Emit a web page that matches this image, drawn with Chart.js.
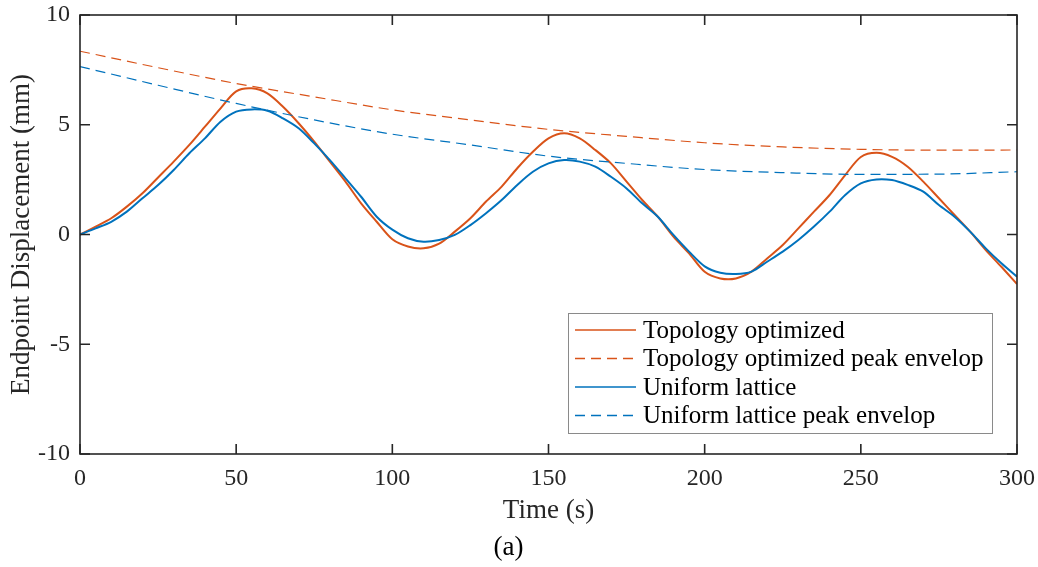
<!DOCTYPE html>
<html>
<head>
<meta charset="utf-8">
<script src="https://cdn.jsdelivr.net/npm/chart.js@4.4.1/dist/chart.umd.min.js"></script>
<style>
  html, body { margin: 0; padding: 0; background: #fff; }
  #wrap { width: 1038px; height: 567px; }
</style>
</head>
<body>
<div id="wrap"><canvas id="dispChart" width="1038" height="567"></canvas></div>
<script>
// sample times (s)
const times = [
  0, 5, 10, 15, 20, 25, 30, 35, 40, 45, 50, 55, 60, 65, 70, 75, 80, 85, 90, 95,
  100, 105, 110, 115, 120, 125, 130, 135, 140, 145, 150, 155, 160, 165, 170, 175, 180, 185, 190, 195,
  200, 205, 210, 215, 220, 225, 230, 235, 240, 245, 250, 255, 260, 265, 270, 275, 280, 285, 290, 295,
  300
];

// endpoint displacement (mm)
const topologyOptimized = [
  0.0, 0.36, 0.74, 1.27, 1.88, 2.6, 3.32, 4.08, 4.91, 5.75, 6.52, 6.66, 6.43, 5.82, 5.07, 4.23, 3.32, 2.41, 1.42, 0.58,
  -0.22, -0.55, -0.63, -0.42, 0.13, 0.74, 1.5, 2.18, 3.02, 3.77, 4.38, 4.61, 4.38, 3.85, 3.24, 2.41, 1.57, 0.81, -0.1, -0.86,
  -1.7, -2.0, -2.0, -1.69, -1.09, -0.48, 0.28, 1.04, 1.8, 2.71, 3.53, 3.72, 3.54, 3.09, 2.41, 1.65, 0.89, 0.13, -0.71, -1.47,
  -2.26
];
const uniformLattice = [
  0.0, 0.28, 0.58, 1.04, 1.65, 2.25, 2.94, 3.7, 4.38, 5.14, 5.6, 5.7, 5.64, 5.29, 4.84, 4.15, 3.39, 2.56, 1.72, 0.81,
  0.22, -0.17, -0.33, -0.25, -0.02, 0.43, 0.97, 1.57, 2.26, 2.86, 3.24, 3.39, 3.32, 3.09, 2.63, 2.1, 1.42, 0.81, -0.02, -0.78,
  -1.45, -1.74, -1.8, -1.69, -1.24, -0.78, -0.25, 0.36, 1.04, 1.8, 2.33, 2.51, 2.48, 2.26, 1.95, 1.34, 0.81, 0.13, -0.63, -1.31,
  -1.92
];

// peak envelopes
const envelopeTimes = [0, 25, 50, 75, 100, 125, 150, 175, 200, 225, 250, 275, 300];
const topologyEnvelope = [8.35, 7.6, 6.88, 6.27, 5.68, 5.22, 4.79, 4.47, 4.18, 3.99, 3.88, 3.84, 3.85];
const uniformEnvelope = [7.65, 6.8, 5.97, 5.22, 4.57, 4.08, 3.57, 3.24, 2.96, 2.82, 2.74, 2.75, 2.86];

const seriesLabels = [
  'Topology optimized',
  'Topology optimized peak envelop',
  'Uniform lattice',
  'Uniform lattice peak envelop'
];

const xTicks = [0, 50, 100, 150, 200, 250, 300];
const yTicks = [-10, -5, 0, 5, 10];

const FONT = "'Liberation Serif', 'Times New Roman', serif";
const INK = '#262626';
const ORANGE = '#D95319';
const BLUE = '#0072BD';

const toPoints = (xs, ys) => xs.map((t, i) => ({ x: t, y: ys[i] }));

// keep the plot box fixed: no extra room for overhanging tick labels
function noLabelPadding(scale) {
  scale.paddingTop = 0;
  scale.paddingBottom = 0;
  scale.paddingLeft = 0;
  scale.paddingRight = 0;
}

// box around the axes with inward tick marks on all four sides
const frameTicks = {
  id: 'frameTicks',
  afterDatasetsDraw(chart) {
    const { ctx, chartArea: a, scales: { x, y } } = chart;
    ctx.save();
    ctx.strokeStyle = INK;
    ctx.lineWidth = 1.6;
    ctx.beginPath();
    xTicks.forEach(v => {
      const px = x.getPixelForValue(v);
      ctx.moveTo(px, a.bottom); ctx.lineTo(px, a.bottom - 10);
      ctx.moveTo(px, a.top); ctx.lineTo(px, a.top + 10);
    });
    yTicks.forEach(v => {
      const py = y.getPixelForValue(v);
      ctx.moveTo(a.left, py); ctx.lineTo(a.left + 10, py);
      ctx.moveTo(a.right, py); ctx.lineTo(a.right - 10, py);
    });
    ctx.stroke();
    ctx.strokeRect(a.left, a.top, a.right - a.left, a.bottom - a.top);
    ctx.restore();
  }
};

// boxed legend in the lower right of the axes
const boxLegend = {
  id: 'boxLegend',
  afterDraw(chart) {
    const { ctx } = chart;
    const left = 568, top = 313, w = 424, h = 120;
    ctx.save();
    ctx.fillStyle = '#fff';
    ctx.fillRect(left, top, w, h);
    ctx.strokeStyle = '#8a8a8a';
    ctx.lineWidth = 1;
    ctx.strokeRect(left + 0.5, top + 0.5, w, h);
    ctx.font = '25px ' + FONT;
    ctx.textBaseline = 'middle';
    ctx.fillStyle = '#000';
    chart.data.datasets.forEach((ds, i) => {
      const cy = top + 17 + i * 28.5;
      ctx.strokeStyle = ds.borderColor;
      ctx.lineWidth = 1.3;
      ctx.setLineDash(ds.borderDash || []);
      ctx.beginPath();
      ctx.moveTo(575, cy);
      ctx.lineTo(636, cy);
      ctx.stroke();
      ctx.setLineDash([]);
      ctx.fillText(ds.label, 643, cy + 1);
    });
    ctx.restore();
  }
};

const chart = new Chart(document.getElementById('dispChart').getContext('2d'), {
  type: 'line',
  data: {
    datasets: [
      {
        label: seriesLabels[0],
        data: toPoints(times, topologyOptimized),
        borderColor: ORANGE,
        borderWidth: 2,
        tension: 0.3,
        pointRadius: 0,
        order: 4
      },
      {
        label: seriesLabels[1],
        data: toPoints(envelopeTimes, topologyEnvelope),
        borderColor: ORANGE,
        borderWidth: 1.2,
        borderDash: [10, 6],
        cubicInterpolationMode: 'monotone',
        pointRadius: 0,
        order: 3
      },
      {
        label: seriesLabels[2],
        data: toPoints(times, uniformLattice),
        borderColor: BLUE,
        borderWidth: 2,
        tension: 0.3,
        pointRadius: 0,
        order: 2
      },
      {
        label: seriesLabels[3],
        data: toPoints(envelopeTimes, uniformEnvelope),
        borderColor: BLUE,
        borderWidth: 1.2,
        borderDash: [10, 6],
        cubicInterpolationMode: 'monotone',
        pointRadius: 0,
        order: 1
      }
    ]
  },
  options: {
    responsive: false,
    animation: false,
    layout: { padding: { top: 15, right: 21, bottom: 0, left: 0 } },
    plugins: {
      legend: { display: false },
      tooltip: { enabled: false },
      title: {
        display: true,
        position: 'bottom',
        text: '(a)',
        color: '#000',
        font: { family: FONT, size: 27, weight: 'normal' },
        padding: { top: 3, bottom: 3 }
      }
    },
    scales: {
      x: {
        type: 'linear',
        min: 0,
        max: 300,
        grid: { display: false, drawTicks: false },
        border: { display: false },
        ticks: {
          stepSize: 50,
          padding: 10,
          color: INK,
          font: { family: FONT, size: 24 }
        },
        title: {
          display: true,
          text: 'Time (s)',
          color: INK,
          font: { family: FONT, size: 27 },
          padding: { top: 0, bottom: 1 }
        },
        afterFit(scale) {
          scale.height = 74.6;
          noLabelPadding(scale);
        }
      },
      y: {
        min: -10,
        max: 10,
        grid: { display: false, drawTicks: false },
        border: { display: false },
        ticks: {
          stepSize: 5,
          padding: 10,
          color: INK,
          font: { family: FONT, size: 24 }
        },
        title: {
          display: true,
          text: 'Endpoint Displacement (mm)',
          color: INK,
          font: { family: FONT, size: 27 },
          padding: { top: 6, bottom: 0 }
        },
        afterFit(scale) {
          scale.width = 80;
          noLabelPadding(scale);
        }
      }
    }
  },
  plugins: [frameTicks, boxLegend]
});
</script>
</body>
</html>
